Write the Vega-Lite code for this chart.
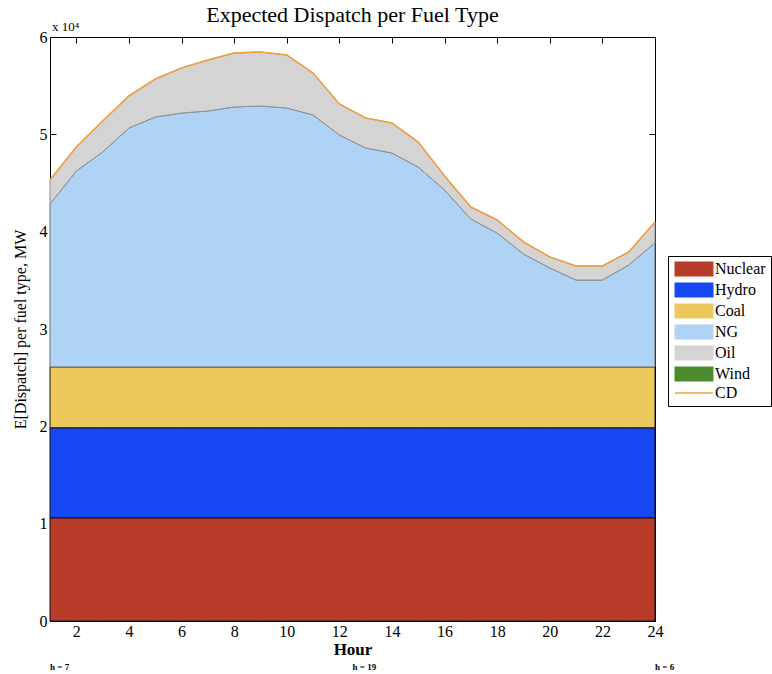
{
  "$schema": "https://vega.github.io/schema/vega-lite/v6.json",
  "width": 605,
  "height": 584,
  "autosize": {"type": "none"},
  "padding": {"left": 50, "top": 37, "right": 117, "bottom": 53},
  "background": "white",
  "config": {
    "font": "Liberation Serif",
    "view": {"stroke": "black", "strokeWidth": 1},
    "axis": {"grid": false, "domainColor": "black", "tickColor": "black", "labelColor": "black", "titleColor": "black", "domainWidth": 1, "tickWidth": 1}
  },
  "title": {"text": "Expected Dispatch per Fuel Type", "fontSize": 22, "fontWeight": "normal", "font": "Liberation Serif", "color": "black", "offset": -6, "anchor": "middle"},
  "datasets": {
    "fuelOrder": [
      {"fuel": "Nuclear", "rank": 1},
      {"fuel": "Hydro", "rank": 2},
      {"fuel": "Coal", "rank": 3},
      {"fuel": "NG", "rank": 4},
      {"fuel": "Oil", "rank": 5}
    ]
  },
  "data": {
    "values": [
      {"hour": 1, "Nuclear": 10600, "Hydro": 9250, "Coal": 6250, "NG": 16740, "Oil": 2470, "CD": 45310},
      {"hour": 2, "Nuclear": 10600, "Hydro": 9250, "Coal": 6250, "NG": 20130, "Oil": 2470, "CD": 48700},
      {"hour": 3, "Nuclear": 10600, "Hydro": 9250, "Coal": 6250, "NG": 22080, "Oil": 3190, "CD": 51370},
      {"hour": 4, "Nuclear": 10600, "Hydro": 9250, "Coal": 6250, "NG": 24550, "Oil": 3290, "CD": 53940},
      {"hour": 5, "Nuclear": 10600, "Hydro": 9250, "Coal": 6250, "NG": 25680, "Oil": 3900, "CD": 55680},
      {"hour": 6, "Nuclear": 10600, "Hydro": 9250, "Coal": 6250, "NG": 26090, "Oil": 4630, "CD": 56820},
      {"hour": 7, "Nuclear": 10600, "Hydro": 9250, "Coal": 6250, "NG": 26300, "Oil": 5240, "CD": 57640},
      {"hour": 8, "Nuclear": 10600, "Hydro": 9250, "Coal": 6250, "NG": 26710, "Oil": 5550, "CD": 58360},
      {"hour": 9, "Nuclear": 10600, "Hydro": 9250, "Coal": 6250, "NG": 26810, "Oil": 5550, "CD": 58460},
      {"hour": 10, "Nuclear": 10600, "Hydro": 9250, "Coal": 6250, "NG": 26610, "Oil": 5440, "CD": 58150},
      {"hour": 11, "Nuclear": 10600, "Hydro": 9250, "Coal": 6250, "NG": 25890, "Oil": 4310, "CD": 56300},
      {"hour": 12, "Nuclear": 10600, "Hydro": 9250, "Coal": 6250, "NG": 23830, "Oil": 3190, "CD": 53120},
      {"hour": 13, "Nuclear": 10600, "Hydro": 9250, "Coal": 6250, "NG": 22500, "Oil": 3080, "CD": 51680},
      {"hour": 14, "Nuclear": 10600, "Hydro": 9250, "Coal": 6250, "NG": 21980, "Oil": 3080, "CD": 51160},
      {"hour": 15, "Nuclear": 10600, "Hydro": 9250, "Coal": 6250, "NG": 20540, "Oil": 2570, "CD": 49210},
      {"hour": 16, "Nuclear": 10600, "Hydro": 9250, "Coal": 6250, "NG": 18180, "Oil": 1440, "CD": 45720},
      {"hour": 17, "Nuclear": 10600, "Hydro": 9250, "Coal": 6250, "NG": 15200, "Oil": 1230, "CD": 42530},
      {"hour": 18, "Nuclear": 10600, "Hydro": 9250, "Coal": 6250, "NG": 13760, "Oil": 1340, "CD": 41200},
      {"hour": 19, "Nuclear": 10600, "Hydro": 9250, "Coal": 6250, "NG": 11610, "Oil": 1230, "CD": 38940},
      {"hour": 20, "Nuclear": 10600, "Hydro": 9250, "Coal": 6250, "NG": 10170, "Oil": 1130, "CD": 37400},
      {"hour": 21, "Nuclear": 10600, "Hydro": 9250, "Coal": 6250, "NG": 8930, "Oil": 1440, "CD": 36470},
      {"hour": 22, "Nuclear": 10600, "Hydro": 9250, "Coal": 6250, "NG": 8930, "Oil": 1440, "CD": 36470},
      {"hour": 23, "Nuclear": 10600, "Hydro": 9250, "Coal": 6250, "NG": 10480, "Oil": 1330, "CD": 37910},
      {"hour": 24, "Nuclear": 10600, "Hydro": 9250, "Coal": 6250, "NG": 12740, "Oil": 2150, "CD": 40990}
    ]
  },
  "layer": [
    {
      "transform": [
        {"fold": ["Nuclear", "Hydro", "Coal", "NG", "Oil"], "as": ["fuel", "MW"]},
        {"lookup": "fuel", "from": {"data": {"name": "fuelOrder"}, "key": "fuel", "fields": ["rank"]}}
      ],
      "mark": {"type": "area", "strokeWidth": 1, "interpolate": "linear"},
      "encoding": {
        "x": {
          "field": "hour", "type": "quantitative",
          "scale": {"domain": [1, 24], "nice": false, "zero": false},
          "axis": {"orient": "bottom", "values": [2, 4, 6, 8, 10, 12, 14, 16, 18, 20, 22, 24], "tickSize": -6, "labelPadding": 8, "labelFontSize": 16, "labelFlush": false, "title": "Hour", "titleFontSize": 17, "titleFontWeight": "bold", "titlePadding": 2}
        },
        "y": {
          "field": "MW", "type": "quantitative", "stack": "zero",
          "scale": {"domain": [0, 60000], "nice": false},
          "axis": {"orient": "left", "values": [0, 10000, 20000, 30000, 40000, 50000, 60000], "labelExpr": "datum.value / 10000", "tickSize": -6, "labelPadding": 9, "labelFontSize": 16, "title": "E[Dispatch] per fuel type, MW", "titleFontSize": 16, "titleFontWeight": "normal", "titleX": -30, "titleBaseline": "middle"}
        },
        "order": {"field": "rank", "type": "quantitative", "sort": "ascending"},
        "color": {
          "field": "fuel", "type": "nominal",
          "sort": ["Nuclear", "Hydro", "Coal", "NG", "Oil", "Wind", "CD"],
          "scale": {"domain": ["Nuclear", "Hydro", "Coal", "NG", "Oil", "Wind", "CD"], "range": ["#b83b2a", "#1547f2", "#edc85c", "#afd3f4", "#d4d4d4", "#4b8b2b", "#f0a040"]},
          "legend": {
            "title": null, "orient": "none", "legendX": 618, "legendY": 219,
            "padding": 5, "strokeColor": "black", "fillColor": "white",
            "symbolSize": 196, "symbolOffset": 13, "labelOffset": 13, "rowPadding": 1,
            "labelFontSize": 16, "labelFont": "Liberation Serif", "labelColor": "black", "labelBaseline": "middle",
            "encode": {
              "symbols": {
                "update": {
                  "shape": {"signal": "datum.label === 'CD' ? 'M-2.7,0H2.7' : 'M-2.7,-1H2.7V1H-2.7Z'"},
                  "fill": {"signal": "datum.label === 'CD' ? 'transparent' : scale('color', datum.value)"},
                  "stroke": {"signal": "datum.label === 'CD' ? '#f0a040' : '#000000'"},
                  "strokeWidth": {"signal": "datum.label === 'CD' ? 1.5 : 1.2"},
                  "strokeOpacity": {"value": 1},
                  "fillOpacity": {"value": 1},
                  "opacity": {"value": 1}
                }
              }
            }
          }
        },
        "stroke": {
          "field": "fuel", "type": "nominal",
          "scale": {"domain": ["Nuclear", "Hydro", "Coal", "NG", "Oil"], "range": ["#111111", "#111111", "#111111", "#707070", "#909090"]},
          "legend": null
        }
      }
    },
    {
      "mark": {"type": "line", "strokeWidth": 1.6},
      "encoding": {
        "x": {"field": "hour", "type": "quantitative", "axis": {"orient": "top", "values": [2, 4, 6, 8, 10, 12, 14, 16, 18, 20, 22, 24], "labels": false, "tickSize": -6, "title": null}},
        "y": {"field": "CD", "type": "quantitative", "axis": {"orient": "right", "values": [0, 10000, 20000, 30000, 40000, 50000, 60000], "labels": false, "tickSize": -6, "title": null}},
        "color": {
          "datum": "CD",
          "legend": {
            "title": null, "orient": "none", "legendX": 618, "legendY": 219,
            "padding": 5, "strokeColor": "black", "fillColor": "white",
            "symbolSize": 196, "symbolOffset": 13, "labelOffset": 13, "rowPadding": 1,
            "labelFontSize": 16, "labelFont": "Liberation Serif", "labelColor": "black", "labelBaseline": "middle",
            "encode": {
              "symbols": {
                "update": {
                  "shape": {"signal": "datum.label === 'CD' ? 'M-2.7,0H2.7' : 'M-2.7,-1H2.7V1H-2.7Z'"},
                  "fill": {"signal": "datum.label === 'CD' ? 'transparent' : scale('color', datum.value)"},
                  "stroke": {"signal": "datum.label === 'CD' ? '#f0a040' : '#000000'"},
                  "strokeWidth": {"signal": "datum.label === 'CD' ? 1.5 : 1.2"},
                  "strokeOpacity": {"value": 1},
                  "fillOpacity": {"value": 1},
                  "opacity": {"value": 1}
                }
              }
            }
          }
        }
      }
    },
    {
      "data": {"values": [{"hour": 1, "MW": 60000, "t": "x 10⁴"}]},
      "mark": {"type": "text", "align": "left", "baseline": "alphabetic", "dx": 2, "dy": -6, "fontSize": 13, "font": "Liberation Serif", "color": "black"},
      "encoding": {
        "x": {"field": "hour", "type": "quantitative", "axis": null},
        "y": {"field": "MW", "type": "quantitative", "axis": null},
        "text": {"field": "t"}
      }
    },
    {
      "data": {"values": [{"hour": 1, "MW": 0, "t": "h = 7"}, {"hour": 12.5, "MW": 0, "t": "h = 19"}, {"hour": 24, "MW": 0, "t": "h = 6"}]},
      "mark": {"type": "text", "align": "left", "baseline": "middle", "dy": 46, "fontSize": 9, "fontWeight": "bold", "font": "Liberation Serif", "color": "black"},
      "encoding": {
        "x": {"field": "hour", "type": "quantitative", "axis": null},
        "y": {"field": "MW", "type": "quantitative", "axis": null},
        "text": {"field": "t"}
      }
    }
  ],
  "resolve": {"axis": {"x": "independent", "y": "independent"}}
}
